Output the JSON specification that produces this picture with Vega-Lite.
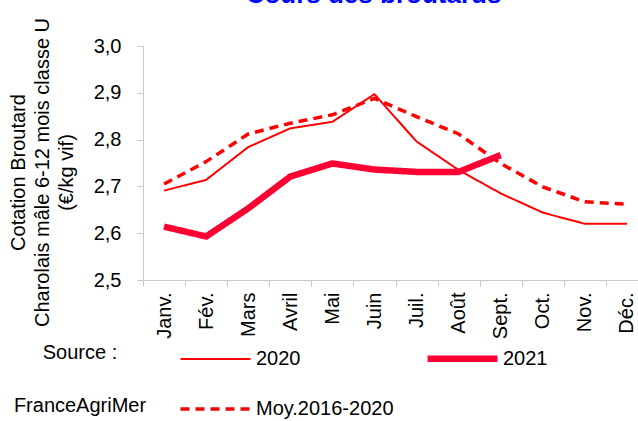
{
  "$schema": "https://vega.github.io/schema/vega-lite/v6.json",
  "autosize": {"type": "none"},
  "width": 505,
  "height": 234,
  "padding": {"left": 143, "top": 46, "right": 0, "bottom": 141},
  "background": "white",
  "config": {
    "font": "Liberation Sans",
    "view": {"stroke": null}
  },
  "title": {
    "text": "Cours des broutards",
    "color": "#0000ff",
    "fontSize": 26,
    "fontWeight": "bold",
    "font": "Liberation Sans",
    "anchor": "middle",
    "baseline": "alphabetic",
    "offset": 0,
    "dy": 12,
    "dx": -22
  },
  "data": {
    "values": [
      {"month": "Janv.", "series": "Moy.2016-2020", "value": 2.705},
      {"month": "Fév.", "series": "Moy.2016-2020", "value": 2.753},
      {"month": "Mars", "series": "Moy.2016-2020", "value": 2.812},
      {"month": "Avril", "series": "Moy.2016-2020", "value": 2.835},
      {"month": "Mai", "series": "Moy.2016-2020", "value": 2.853},
      {"month": "Juin", "series": "Moy.2016-2020", "value": 2.888},
      {"month": "Juil.", "series": "Moy.2016-2020", "value": 2.849},
      {"month": "Août", "series": "Moy.2016-2020", "value": 2.812},
      {"month": "Sept.", "series": "Moy.2016-2020", "value": 2.749},
      {"month": "Oct.", "series": "Moy.2016-2020", "value": 2.699},
      {"month": "Nov.", "series": "Moy.2016-2020", "value": 2.667},
      {"month": "Déc.", "series": "Moy.2016-2020", "value": 2.662},
      {"month": "Janv.", "series": "2020", "value": 2.691},
      {"month": "Fév.", "series": "2020", "value": 2.714},
      {"month": "Mars", "series": "2020", "value": 2.784},
      {"month": "Avril", "series": "2020", "value": 2.824},
      {"month": "Mai", "series": "2020", "value": 2.838},
      {"month": "Juin", "series": "2020", "value": 2.897},
      {"month": "Juil.", "series": "2020", "value": 2.796},
      {"month": "Août", "series": "2020", "value": 2.735},
      {"month": "Sept.", "series": "2020", "value": 2.685},
      {"month": "Oct.", "series": "2020", "value": 2.644},
      {"month": "Nov.", "series": "2020", "value": 2.62},
      {"month": "Déc.", "series": "2020", "value": 2.62},
      {"month": "Janv.", "series": "2021", "value": 2.614},
      {"month": "Fév.", "series": "2021", "value": 2.593},
      {"month": "Mars", "series": "2021", "value": 2.653},
      {"month": "Avril", "series": "2021", "value": 2.721},
      {"month": "Mai", "series": "2021", "value": 2.749},
      {"month": "Juin", "series": "2021", "value": 2.736},
      {"month": "Juil.", "series": "2021", "value": 2.731},
      {"month": "Août", "series": "2021", "value": 2.731},
      {"month": "Sept.", "series": "2021", "value": 2.767}
    ]
  },
  "mark": {"type": "line", "interpolate": "linear"},
  "encoding": {
    "x": {
      "field": "month",
      "type": "nominal",
      "sort": ["Janv.", "Fév.", "Mars", "Avril", "Mai", "Juin", "Juil.", "Août", "Sept.", "Oct.", "Nov.", "Déc."],
      "scale": {"type": "band", "paddingInner": 0, "paddingOuter": 0},
      "axis": {
        "title": null,
        "labelAngle": 270,
        "labelFontSize": 20,
        "labelColor": "#000000",
        "labelPadding": 6,
        "tickSize": 6,
        "tickBand": "extent",
        "domainColor": "#c8c8c8",
        "tickColor": "#c8c8c8",
        "grid": false
      }
    },
    "y": {
      "field": "value",
      "type": "quantitative",
      "scale": {"domain": [2.5, 3.0], "zero": false, "nice": false},
      "axis": {
        "values": [2.5, 2.6, 2.7, 2.8, 2.9, 3.0],
        "labelExpr": "replace(format(datum.value, '.1f'), '.', ',')",
        "labelFontSize": 20,
        "labelColor": "#000000",
        "labelPadding": 16,
        "tickSize": 6,
        "grid": false,
        "domainColor": "#c8c8c8",
        "tickColor": "#c8c8c8",
        "title": ["Cotation Broutard", "Charolais mâle 6-12 mois classe U", "(€/kg vif)"],
        "titleFontSize": 20,
        "titleFontWeight": "normal",
        "titleColor": "#000000",
        "titleLineHeight": 24,
        "titleAngle": 270,
        "titleAlign": "center",
        "titleBaseline": "bottom",
        "titleX": -115,
        "titleY": 126
      }
    },
    "color": {
      "field": "series",
      "type": "nominal",
      "scale": {"domain": ["2020", "2021", "Moy.2016-2020"], "range": ["#ff0000", "#ff0033", "#ff0000"]},
      "legend": {
        "title": ["Source :", "FranceAgriMer"],
        "orient": "none",
        "legendX": -129,
        "legendY": 274,
        "direction": "horizontal",
        "columns": 2,
        "columnPadding": 20,
        "rowPadding": -17,
        "symbolType": "stroke",
        "symbolSize": 4900,
        "labelFontSize": 20,
        "labelColor": "#000000",
        "labelOffset": 2,
        "titleOrient": "left",
        "titleFontSize": 20,
        "titleFontWeight": "normal",
        "titleColor": "#000000",
        "titleAlign": "center",
        "titleLineHeight": 53,
        "titlePadding": -36,
        "titleBaseline": "top"
      }
    },
    "strokeWidth": {
      "field": "series",
      "type": "nominal",
      "scale": {"type": "ordinal", "domain": ["2020", "2021", "Moy.2016-2020"], "range": [2, 6.5, 3.5]}
    },
    "strokeDash": {
      "field": "series",
      "type": "nominal",
      "scale": {"domain": ["2020", "2021", "Moy.2016-2020"], "range": [[1, 0], [1, 0], [9, 6]]}
    }
  }
}
